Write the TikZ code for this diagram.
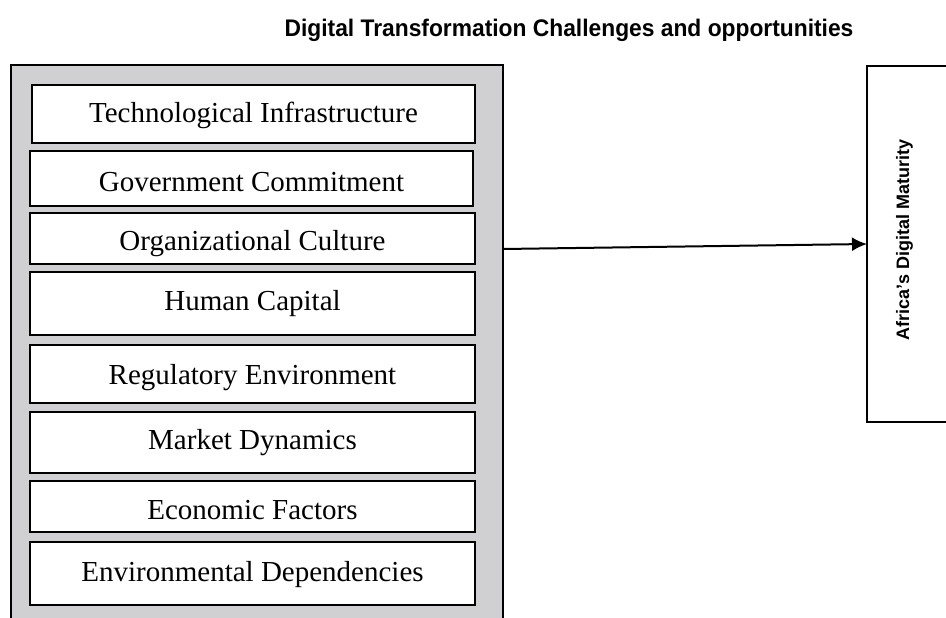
\documentclass[tikz,border=0pt]{standalone}
\usepackage{fontspec}
\setmainfont{Liberation Serif}
\setsansfont{Liberation Sans}
\usetikzlibrary{arrows.meta}
\definecolor{panelgray}{RGB}{208,207,209}
\begin{document}
\begin{tikzpicture}[x=1pt,y=-1pt,
  factorbox/.style={draw=black,line width=2pt,fill=white,rectangle,inner sep=0pt,outer sep=0pt},
  factortext/.style={anchor=base,inner sep=0pt,font=\fontsize{29pt}{34pt}\selectfont},
  panel/.style={draw=black,line width=1.6pt,fill=panelgray,rectangle,inner sep=0pt,outer sep=0pt},
  resultbox/.style={draw=black,line width=2pt,fill=white,rectangle,inner sep=0pt,outer sep=0pt},
  sanslabel/.style={font=\sffamily\bfseries\fontsize{18pt}{21pt}\selectfont,inner sep=0pt},
  titlelabel/.style={font=\sffamily\bfseries\fontsize{24pt}{28pt}\selectfont,inner sep=0pt,xscale=0.95},
  conn/.style={line width=2pt,-{Latex[length=15pt,width=14pt]}}
]
\useasboundingbox (0,0) rectangle (946,618);
\clip (0,0) rectangle (946,618);
\fill[white] (0,0) rectangle (946,618);

\node[titlelabel] (title) at (569,30) {Digital Transformation Challenges and opportunities};

\node[panel,minimum width=492pt,minimum height=575pt] (frame) at (257,352.5) {};

\node[factorbox,minimum width=443pt,minimum height=58pt] (b1) at (253.5,114) {};
\node[factorbox,minimum width=443pt,minimum height=55pt] (b2) at (251.5,178.5) {};
\node[factorbox,minimum width=445pt,minimum height=51pt] (b3) at (252.5,238.5) {};
\node[factorbox,minimum width=445pt,minimum height=63pt] (b4) at (252.5,303.5) {};
\node[factorbox,minimum width=445pt,minimum height=58pt] (b5) at (252.5,374) {};
\node[factorbox,minimum width=445pt,minimum height=61pt] (b6) at (252.5,442.5) {};
\node[factorbox,minimum width=445pt,minimum height=51pt] (b7) at (252.5,506.5) {};
\node[factorbox,minimum width=445pt,minimum height=63pt] (b8) at (252.5,573.5) {};

\node[factortext] (t1) at (253.5,122.5) {Technological Infrastructure};
\node[factortext] (t2) at (251.5,191.5) {Government Commitment};
\node[factortext] (t3) at (252.5,250.5) {Organizational Culture};
\node[factortext] (t4) at (252.5,310) {Human Capital};
\node[factortext] (t5) at (252.5,384) {Regulatory Environment};
\node[factortext] (t6) at (252.5,449.5) {Market Dynamics};
\node[factortext] (t7) at (252.5,519.5) {Economic Factors};
\node[factortext] (t8) at (252.5,581.5) {Environmental Dependencies};

\node[resultbox,minimum width=100pt,minimum height=356pt] (rbox) at (917,244) {};
\node[sanslabel,rotate=90] (rlabel) at (904.5,240) {Africa's Digital Maturity};

\coordinate (start) at (503,249);
\draw[conn] (start) -- (rbox.west);
\end{tikzpicture}
\end{document}
